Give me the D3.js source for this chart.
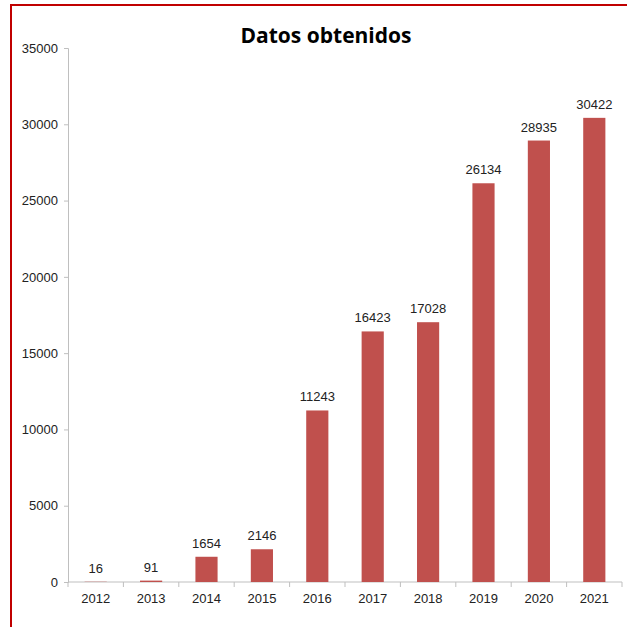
<!DOCTYPE html>
<html><head><meta charset="utf-8">
<script src="https://cdn.jsdelivr.net/npm/d3@7"></script>
<style>body{margin:0;background:#fff;}svg{display:block;}</style>
</head><body>
<script>
const years = ["2012","2013","2014","2015","2016","2017","2018","2019","2020","2021"];
const values = [16, 91, 1654, 2146, 11243, 16423, 17028, 26134, 28935, 30422];
const yTicks = [0, 5000, 10000, 15000, 20000, 25000, 30000, 35000];
const title = "Datos obtenidos";

const W = 627, H = 627;
const svg = d3.select("body").append("svg").attr("width", W).attr("height", H);
svg.append("rect").attr("width", W).attr("height", H).attr("fill", "#fff");

// frame (red border lines top & left)
svg.append("path").attr("d", "M11,627 L11,5 L627,5").attr("fill", "none")
  .attr("stroke", "#c00000").attr("stroke-width", 2);

const x = d3.scaleBand().domain(years).range([68, 622]).paddingInner(0.6).paddingOuter(0.3);
const y = d3.scaleLinear().domain([0, 35000]).range([582, 48]);

const font = "'Liberation Sans', Arial, sans-serif";

// y axis
const yAxis = svg.append("g").attr("transform", "translate(68,0)")
  .call(d3.axisLeft(y).tickValues(yTicks).tickSize(4).tickPadding(6).tickFormat(d3.format("d")));
yAxis.select(".domain").attr("stroke", "#bfbfbf");
yAxis.selectAll(".tick line").attr("stroke", "#bfbfbf");
yAxis.selectAll("text").attr("font-family", font).attr("font-size", 13).attr("fill", "#222");

// x axis
const xAxis = svg.append("g").attr("transform", "translate(0,582)")
  .call(d3.axisBottom(x).tickSize(0).tickPadding(12));
xAxis.select(".domain").attr("stroke", "#bfbfbf").attr("d", "M68,0H622");
xAxis.selectAll("text").attr("font-family", font).attr("font-size", 13).attr("fill", "#222");
// tick marks at category boundaries
const bounds = d3.range(years.length + 1).map(i => 68 + i * (622 - 68) / years.length);
svg.append("g").selectAll("line").data(bounds).join("line")
  .attr("x1", d => d).attr("x2", d => d).attr("y1", 582).attr("y2", 587)
  .attr("stroke", "#bfbfbf");

// bars
svg.append("g").selectAll("rect").data(values).join("rect")
  .attr("x", (d, i) => x(years[i]))
  .attr("width", x.bandwidth())
  .attr("y", d => y(d))
  .attr("height", d => y(0) - y(d))
  .attr("fill", "#c0504d");

// value labels
svg.append("g").selectAll("text").data(values).join("text")
  .attr("x", (d, i) => x(years[i]) + x.bandwidth() / 2)
  .attr("y", d => y(d) - 9)
  .attr("text-anchor", "middle")
  .attr("font-family", font).attr("font-size", 13).attr("fill", "#222")
  .text(d => d);

// title
svg.append("text").attr("x", 326).attr("y", 43).attr("text-anchor", "middle")
  .attr("font-family", "'Open Sans', sans-serif").attr("font-weight", "bold")
  .attr("font-size", 21).attr("fill", "#000").text(title);
</script>
</body></html>
